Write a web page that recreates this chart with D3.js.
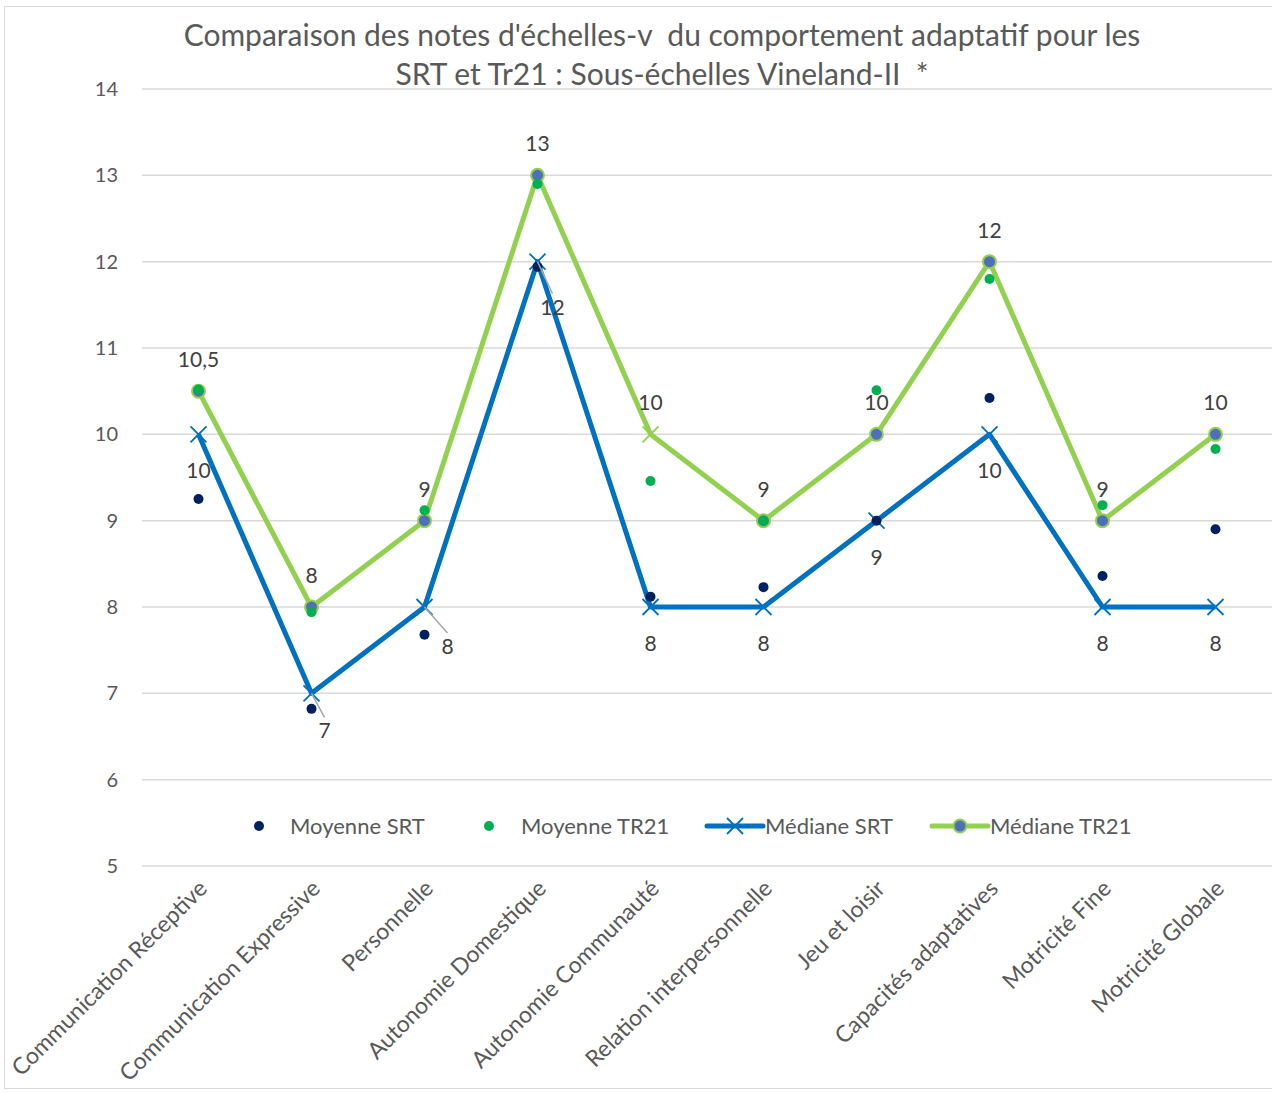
<!DOCTYPE html>
<html>
<head>
<meta charset="utf-8">
<title>Vineland-II</title>
<script src="https://d3js.org/d3.v7.min.js"></script>
<style>
body { margin: 0; background: #fff; }
text { font-family: Lato, "Open Sans", sans-serif; white-space: pre; }
</style>
</head>
<body>
<div id="chart"></div>
<script>
var categories = ["Communication Réceptive", "Communication Expressive", "Personnelle",
  "Autonomie Domestique", "Autonomie Communauté", "Relation interpersonnelle",
  "Jeu et loisir", "Capacités adaptatives", "Motricité Fine", "Motricité Globale"];
var moyenneSRT  = [9.25, 6.82, 7.68, 11.94, 8.12, 8.23, 9.0, 10.42, 8.36, 8.9];
var moyenneTR21 = [10.52, 7.94, 9.12, 12.9, 9.46, 9.0, 10.51, 11.8, 9.18, 9.83];
var medianeSRT  = [10, 7, 8, 12, 8, 8, 9, 10, 8, 8];
var medianeTR21 = [10.5, 8, 9, 13, 10, 9, 10, 12, 9, 10];
var yTicks = [5, 6, 7, 8, 9, 10, 11, 12, 13, 14];

var W = 1272, H = 1093;
var svg = d3.select("#chart").append("svg").attr("width", W).attr("height", H);

svg.append("rect").attr("x", 4.5).attr("y", 6.5).attr("width", W + 10).attr("height", H - 11)
  .attr("fill", "#fff").attr("stroke", "#d9d9d9");

var x = d3.scaleBand().domain(categories).range([142, 1272]);
var cx = d => x(d) + x.bandwidth() / 2;
var y = d3.scaleLinear().domain([5, 14]).range([866, 89]);

// title
svg.append("text").attr("x", 662).attr("y", 46).attr("text-anchor", "middle")
  .attr("font-size", 30).attr("fill", "#595959")
  .text("Comparaison des notes d'échelles-v  du comportement adaptatif pour les");
svg.append("text").attr("x", 662).attr("y", 85).attr("text-anchor", "middle")
  .attr("font-size", 30).attr("fill", "#595959")
  .text("SRT et Tr21 : Sous-échelles Vineland-II  *");

// grid + y labels
svg.selectAll("line.grid").data(yTicks).enter().append("line")
  .attr("x1", 142).attr("x2", 1272)
  .attr("y1", d => y(d)).attr("y2", d => y(d))
  .attr("stroke", "#d9d9d9").attr("stroke-width", 1.5);
svg.selectAll("text.ytick").data(yTicks).enter().append("text")
  .attr("x", 118).attr("y", d => y(d) + 7).attr("text-anchor", "end")
  .attr("font-size", 20).attr("fill", "#595959").text(d => d);

// x labels
svg.selectAll("text.xlab").data(categories).enter().append("text")
  .attr("text-anchor", "end").attr("font-size", 23).attr("fill", "#595959")
  .attr("transform", d => "translate(" + (cx(d) + 10) + ",890) rotate(-45)")
  .text(d => d);

var line = d3.line().x((d, i) => cx(categories[i])).y(d => y(d));

function cross(g, px, py, color) {
  var s = 8;
  g.append("path")
    .attr("d", "M" + (px - s) + "," + (py - s) + "L" + (px + s) + "," + (py + s) +
      "M" + (px - s) + "," + (py + s) + "L" + (px + s) + "," + (py - s))
    .attr("stroke", color).attr("stroke-width", 1.8).attr("fill", "none");
}

// Médiane SRT
svg.append("path").datum(medianeSRT).attr("d", line)
  .attr("fill", "none").attr("stroke", "#0070c0").attr("stroke-width", 5)
  .attr("stroke-linejoin", "round");
var gS = svg.append("g");
medianeSRT.forEach((v, i) => cross(gS, cx(categories[i]), y(v), "#0070c0"));

// Médiane TR21
svg.append("path").datum(medianeTR21).attr("d", line)
  .attr("fill", "none").attr("stroke", "#92d050").attr("stroke-width", 5)
  .attr("stroke-linejoin", "round");
var gT = svg.append("g");
medianeTR21.forEach(function (v, i) {
  if (i === 4) { cross(gT, cx(categories[i]), y(v), "#92d050"); return; }
  gT.append("circle").attr("cx", cx(categories[i])).attr("cy", y(v)).attr("r", 6.5)
    .attr("fill", "#4f6fb9").attr("stroke", "#92d050").attr("stroke-width", 2);
});

// moyennes (scatter)
svg.selectAll("circle.msrt").data(moyenneSRT).enter().append("circle")
  .attr("cx", (d, i) => cx(categories[i])).attr("cy", d => y(d)).attr("r", 5)
  .attr("fill", "#002060");
svg.selectAll("circle.mtr").data(moyenneTR21).enter().append("circle")
  .attr("cx", (d, i) => cx(categories[i])).attr("cy", d => y(d)).attr("r", 5)
  .attr("fill", "#00b050");

// data labels
var fmt = v => String(v).replace(".", ",");
svg.selectAll("text.lt").data(medianeTR21).enter().append("text")
  .attr("x", (d, i) => cx(categories[i])).attr("y", d => y(d) - 24)
  .attr("text-anchor", "middle").attr("font-size", 21).attr("fill", "#404040")
  .text(fmt);

// SRT labels below; a few pushed aside with a leader line
var moved = { 1: [13, 45], 2: [23, 47], 3: [15, 53] };
medianeSRT.forEach(function (v, i) {
  var px = cx(categories[i]), py = y(v);
  var off = moved[i] || [0, 44];
  if (moved[i]) {
    svg.append("line").attr("x1", px).attr("y1", py)
      .attr("x2", px + off[0]).attr("y2", py + off[1] - 21)
      .attr("stroke", "#a6a6a6").attr("stroke-width", 1.5);
  }
  svg.append("text").attr("x", px + off[0]).attr("y", py + off[1])
    .attr("text-anchor", "middle").attr("font-size", 21).attr("fill", "#404040")
    .text(fmt(v));
});

// legend
var ly = 826;
var lg = svg.append("g");
lg.append("circle").attr("cx", 259).attr("cy", ly).attr("r", 5).attr("fill", "#002060");
lg.append("text").attr("x", 290).attr("y", ly + 8).attr("font-size", 22).attr("fill", "#595959").text("Moyenne SRT");
lg.append("circle").attr("cx", 489).attr("cy", ly).attr("r", 5).attr("fill", "#00b050");
lg.append("text").attr("x", 521).attr("y", ly + 8).attr("font-size", 22).attr("fill", "#595959").text("Moyenne TR21");
lg.append("line").attr("x1", 707).attr("x2", 763).attr("y1", ly).attr("y2", ly)
  .attr("stroke", "#0070c0").attr("stroke-width", 5).attr("stroke-linecap", "round");
cross(lg, 735, ly, "#0070c0");
lg.append("text").attr("x", 765).attr("y", ly + 8).attr("font-size", 22).attr("fill", "#595959").text("Médiane SRT");
lg.append("line").attr("x1", 932).attr("x2", 988).attr("y1", ly).attr("y2", ly)
  .attr("stroke", "#92d050").attr("stroke-width", 5).attr("stroke-linecap", "round");
lg.append("circle").attr("cx", 960).attr("cy", ly).attr("r", 6.5)
  .attr("fill", "#4f6fb9").attr("stroke", "#92d050").attr("stroke-width", 2);
lg.append("text").attr("x", 990).attr("y", ly + 8).attr("font-size", 22).attr("fill", "#595959").text("Médiane TR21");
</script>
</body>
</html>
